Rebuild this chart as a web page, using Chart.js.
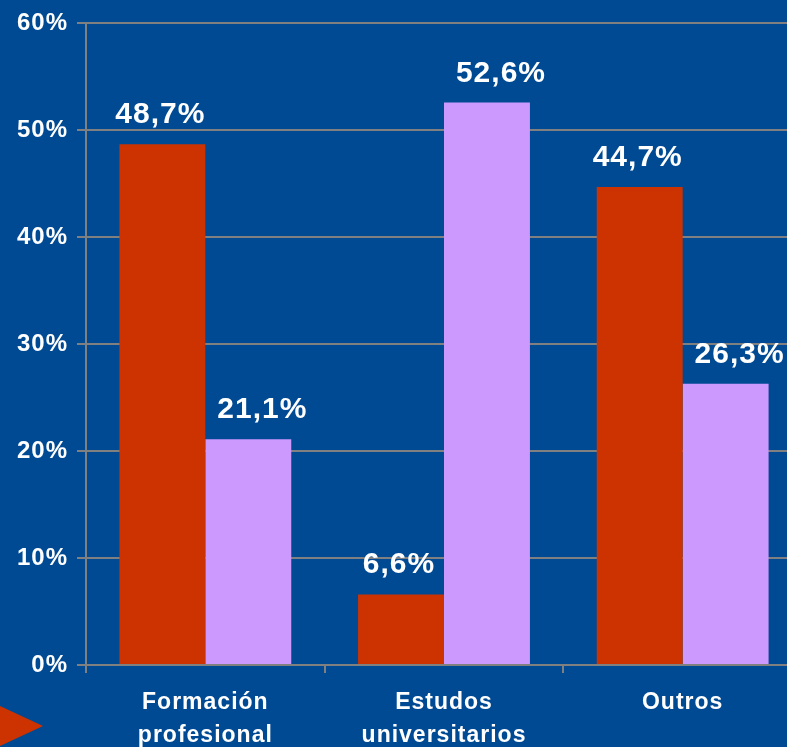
<!DOCTYPE html>
<html>
<head>
<meta charset="utf-8">
<script src="https://cdn.jsdelivr.net/npm/chart.js@4/dist/chart.umd.min.js"></script>
<style>
    html, body { margin: 0; padding: 0; background: #004a94; overflow: hidden; }
    #wrap { width: 787px; height: 747px; overflow: hidden; }
    #wrap div { width: 810px; height: 747px; }
</style>
</head>
<body>
<div id="wrap"><div><canvas id="chart"></canvas></div></div>
<script>
const categories = [["Formación", "profesional"], ["Estudos", "universitarios"], ["Outros"]];
const redValues = [48.7, 6.6, 44.7];
const lilacValues = [21.1, 52.6, 26.3];
const yTicks = [0, 10, 20, 30, 40, 50, 60];

const FONT = "'Liberation Sans', Arial, sans-serif";

// background + the little red arrow at bottom left
const backdrop = {
    id: "backdrop",
    beforeDraw(chart) {
        const ctx = chart.ctx;
        ctx.save();
        ctx.fillStyle = "#004a94";
        ctx.fillRect(0, 0, chart.width, chart.height);
        ctx.fillStyle = "#cc3300";
        ctx.beginPath();
        ctx.moveTo(0, 706);
        ctx.lineTo(43, 726);
        ctx.lineTo(0, 746);
        ctx.closePath();
        ctx.fill();
        ctx.restore();
        // text in the original is a little spaced out
        ctx.letterSpacing = "1px";
    }
};

// values above each bar, with a comma as decimal mark
const valueLabels = {
    id: "valueLabels",
    afterDatasetsDraw(chart) {
        const ctx = chart.ctx;
        const shift = [-2, 14];
        ctx.save();
        ctx.font = "bold 30px " + FONT;
        ctx.fillStyle = "#ffffff";
        ctx.textAlign = "center";
        ctx.textBaseline = "alphabetic";
        chart.data.datasets.forEach((ds, i) => {
            chart.getDatasetMeta(i).data.forEach((bar, j) => {
                const txt = ds.data[j].toFixed(1).replace(".", ",") + "%";
                ctx.fillText(txt, bar.x + shift[i], bar.y - 21);
            });
        });
        ctx.restore();
    }
};

new Chart(document.getElementById("chart"), {
    type: "bar",
    data: {
        labels: categories,
        datasets: [{
            data: redValues,
            backgroundColor: "#cc3300",
            categoryPercentage: 0.72,
            barPercentage: 1
        }, {
            data: lilacValues,
            backgroundColor: "#cc99ff",
            categoryPercentage: 0.72,
            barPercentage: 1
        }]
    },
    options: {
        responsive: true,
        maintainAspectRatio: false,
        animation: false,
        layout: { padding: { top: 22, right: 8, left: 0, bottom: 0 } },
        plugins: {
            legend: { display: false },
            tooltip: { enabled: false }
        },
        scales: {
            x: {
                grid: {
                    offset: true,
                    drawOnChartArea: false,
                    color: "#808080",
                    lineWidth: 2,
                    tickLength: 8
                },
                border: { color: "#808080", width: 2 },
                ticks: {
                    color: "#ffffff",
                    padding: 13,
                    font: { family: FONT, size: 23, weight: "bold", lineHeight: 1.45 }
                },
                afterFit(scale) { scale.height = 82; }
            },
            y: {
                min: 0,
                max: 60,
                afterBuildTicks(scale) { scale.ticks = yTicks.map(v => ({ value: v })); },
                grid: {
                    color: "#808080",
                    lineWidth: 2,
                    tickLength: 9
                },
                border: { color: "#808080", width: 2 },
                ticks: {
                    color: "#ffffff",
                    padding: 9,
                    font: { family: FONT, size: 24, weight: "bold" },
                    callback: v => v + "%"
                },
                afterFit(scale) { scale.width = 86; }
            }
        }
    },
    plugins: [backdrop, valueLabels]
});
</script>
</body>
</html>
